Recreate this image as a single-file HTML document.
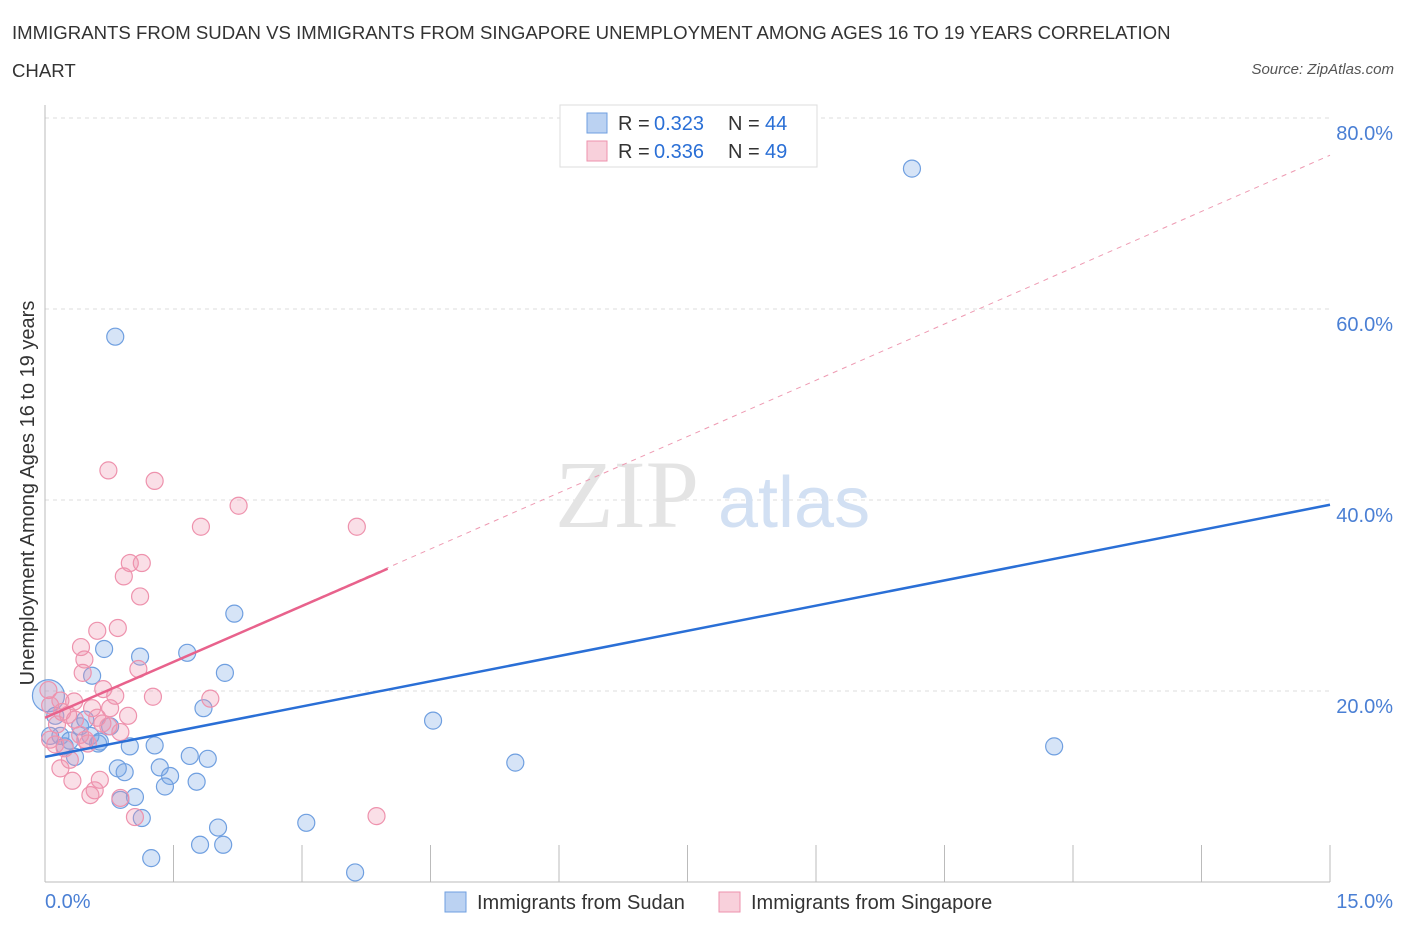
<!DOCTYPE html>
<html><head><meta charset="utf-8">
<style>
body{margin:0;background:#fff;font-family:"Liberation Sans",sans-serif;}
#wrap{position:relative;width:1406px;height:930px;overflow:hidden;}
.t{position:absolute;white-space:nowrap;}
</style></head><body>
<div id="wrap">
<div class="t" style="left:12px;top:22px;font-size:18.6px;color:#333;">IMMIGRANTS FROM SUDAN VS IMMIGRANTS FROM SINGAPORE UNEMPLOYMENT AMONG AGES 16 TO 19 YEARS CORRELATION</div>
<div class="t" style="left:12px;top:60px;font-size:18.6px;color:#333;">CHART</div>
<div class="t" style="right:12px;top:61px;font-size:15px;color:#555;font-style:italic;">Source: ZipAtlas.com</div>
<svg id="svg" width="1406" height="930" style="position:absolute;left:0;top:0"></svg>
</div>
<script>
const xTickVals=[0,15];
const yTickVals=[20,40,60,80];
const sudanX=[10.12,0.82,2.21,0.69,1.11,1.66,2.1,0.55,1.85,4.53,11.78,5.49,0.04,0.12,0.18,0.29,0.41,0.53,0.62,0.76,0.99,1.28,1.69,1.9,0.85,0.93,1.34,1.46,1.4,1.77,1.05,0.88,1.13,2.02,1.81,2.08,3.05,1.24,3.62,0.35,0.23,0.06,0.47,0.64];
const sudanY=[74.7,57.1,28.1,24.4,23.6,24.0,21.9,21.6,18.2,16.9,14.2,12.5,19.5,17.4,15.3,14.8,16.3,15.3,14.5,16.3,14.2,14.3,13.2,12.9,11.9,11.5,12.0,11.1,10.0,10.5,8.9,8.6,6.7,5.7,3.9,3.9,6.2,2.5,1.0,13.1,14.2,15.3,17.0,14.7];
const singX=[0.74,1.28,2.26,1.82,3.64,0.99,1.13,0.92,1.11,0.61,0.85,0.42,0.46,0.44,0.68,1.09,0.82,1.26,1.93,0.34,0.06,0.2,0.97,0.61,0.35,0.14,0.74,0.88,0.5,0.23,0.18,0.32,0.64,0.53,0.58,0.88,1.05,3.87,0.27,0.06,0.12,0.41,0.55,0.04,0.18,0.47,0.29,0.67,0.76];
const singY=[43.1,42.0,39.4,37.2,37.2,33.4,33.4,32.0,29.9,26.3,26.6,24.6,23.3,21.9,20.2,22.3,19.5,19.4,19.2,18.9,18.5,17.8,17.4,17.2,17.0,16.5,16.3,15.7,14.5,14.0,11.9,10.6,10.7,9.1,9.6,8.8,6.8,6.9,17.5,14.9,14.4,15.4,18.2,20.1,19.0,14.9,12.8,16.6,18.2];
const sudanLine=[13.1,39.5];
const singLine=[17.2,32.8,4.0,76.1];
const X=v=>45+v/15*1285, Y=v=>882-v/100*955;
const svg=document.getElementById('svg'), NS='http://www.w3.org/2000/svg';
function mk(t,a,p){const e=document.createElementNS(NS,t);for(const k in a)e.setAttribute(k,a[k]);(p||svg).appendChild(e);return e;}
yTickVals.forEach(v=>{
 const g=mk('line',{x1:45,x2:1330,y1:Y(v),y2:Y(v),stroke:'#ddd','stroke-dasharray':'4 4'});
 
 
 const t=mk('text',{x:1393,y:Y(v)+22,'text-anchor':'end','font-size':20,fill:'#4a7fd4','font-family':'Liberation Sans'});t.textContent=v.toFixed(1)+'%';
 
 
});
mk('line',{x1:45,x2:45,y1:105,y2:882,stroke:'#bbb'});
mk('line',{x1:45,x2:1330,y1:882,y2:882,stroke:'#bbb'});
for(let i=1;i<=10;i++){const xx=45+i*128.5;const l=mk('line',{x1:xx,x2:xx,y1:845,y2:882,stroke:'#bbb'});
 
 }
xTickVals.forEach((v,i)=>{const t=mk('text',{x:i?1393:45,y:908,'text-anchor':i?'end':'start','font-size':20,fill:'#4a7fd4','font-family':'Liberation Sans'});t.textContent=v.toFixed(1)+'%';
 
 });
const yt=mk('text',{x:0,y:0,transform:'translate(34,493) rotate(-90)','text-anchor':'middle','font-size':20,fill:'#333','font-family':'Liberation Sans'});yt.textContent='Unemployment Among Ages 16 to 19 years';


const w1=mk('text',{x:555,y:527,'font-size':96,fill:'#e4e4e4','font-family':'Liberation Serif'});w1.textContent='ZIP';


const w2=mk('text',{x:718,y:527,'font-size':72,fill:'#d2e0f3','font-family':'Liberation Sans'});w2.textContent='atlas';
sudanX.forEach((x,i)=>{const c=mk('circle',{cx:X(x),cy:Y(sudanY[i]),r:i==12?16:8.5,fill:'rgba(120,165,230,0.3)',stroke:'#6f9fe0','stroke-width':1.2});
 
 });
singX.forEach((x,i)=>{const c=mk('circle',{cx:X(x),cy:Y(singY[i]),r:8.5,fill:'rgba(240,150,175,0.3)',stroke:'#ee92ad','stroke-width':1.2});
 
 });
const d=mk('line',{x1:X(0),y1:Y(singLine[0]),x2:X(15),y2:Y(singLine[3]),stroke:'#ee9ab2','stroke-dasharray':'5 5','stroke-width':1});


const l1=mk('line',{x1:X(0),y1:Y(sudanLine[0]),x2:X(15),y2:Y(sudanLine[1]),stroke:'#2a6fd6','stroke-width':2.5});


const l2=mk('line',{x1:X(0),y1:Y(singLine[0]),x2:X(singLine[2]),y2:Y(singLine[1]),stroke:'#e8628c','stroke-width':2.5});


const lg=mk('g',{});
mk('rect',{x:560,y:105,width:257,height:62,fill:'#fff',stroke:'#ddd'},lg);
[['0.323','44','rgba(120,165,230,0.5)','#6f9fe0',123],['0.336','49','rgba(240,150,175,0.45)','#ee92ad',151]].forEach(r=>{
 mk('rect',{x:587,y:r[4]-10,width:20,height:20,fill:r[2],stroke:r[3]},lg);
 const a=mk('text',{x:618,y:r[4]+7,'font-size':20,fill:'#333','font-family':'Liberation Sans'},lg);a.textContent='R =';
 const b=mk('text',{x:654,y:r[4]+7,'font-size':20,fill:'#2a6fd6','font-family':'Liberation Sans'},lg);b.textContent=r[0];
 const c=mk('text',{x:728,y:r[4]+7,'font-size':20,fill:'#333','font-family':'Liberation Sans'},lg);c.textContent='N =';
 const e=mk('text',{x:765,y:r[4]+7,'font-size':20,fill:'#2a6fd6','font-family':'Liberation Sans'},lg);e.textContent=r[1];
});
[[445,'Immigrants from Sudan','rgba(120,165,230,0.5)','#6f9fe0'],[719,'Immigrants from Singapore','rgba(240,150,175,0.45)','#ee92ad']].forEach(r=>{
 const b=mk('rect',{x:r[0],y:892,width:21,height:20,fill:r[2],stroke:r[3]});
 
 
 const t=mk('text',{x:r[0]+32,y:909,'font-size':20,fill:'#333','font-family':'Liberation Sans'});t.textContent=r[1];
 
 
});
</script>
</body></html>
